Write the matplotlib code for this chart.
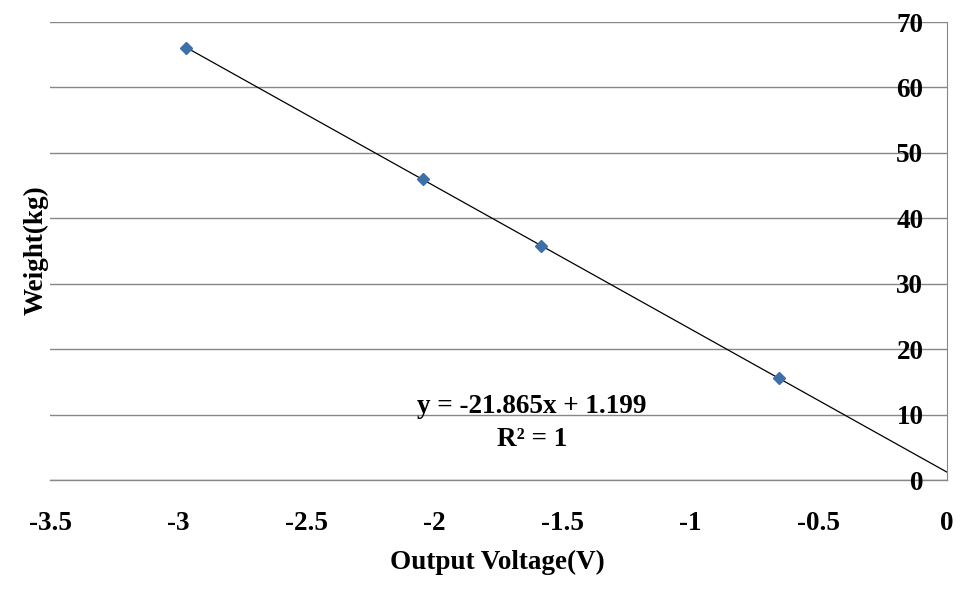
import numpy as np
import matplotlib.pyplot as plt
from matplotlib.ticker import FuncFormatter

# data
voltage = [-2.97, -2.045, -1.584, -0.656]
weight = [66.0, 46.0, 35.8, 15.6]
slope = -21.865
intercept = 1.199
x_ticks = [-3.5, -3, -2.5, -2, -1.5, -1, -0.5, 0]
y_ticks = [0, 10, 20, 30, 40, 50, 60, 70]

plt.rcParams['font.family'] = ['Liberation Serif', 'DejaVu Serif']
plt.rcParams['font.weight'] = 'bold'
plt.rcParams['axes.unicode_minus'] = False

fig = plt.figure(figsize=(9.69, 5.92), dpi=100)
ax = fig.add_axes([50 / 969, 1 - 480 / 592, 897 / 969, 458 / 592])

# trend line from first point to x = 0
line_x = np.array([voltage[0], 0.0])
ax.plot(line_x, slope * line_x + intercept, color='black', lw=0.9, zorder=3)
ax.plot(voltage, weight, ls='none', marker='D', ms=6, color='#3d6fa8',
        markeredgecolor='#3d6fa8', zorder=4)

ax.set_xlim(-3.5, 0)
ax.set_ylim(0, 70)
ax.set_xticks(x_ticks)
ax.set_yticks(y_ticks)
ax.xaxis.set_major_formatter(FuncFormatter(lambda v, p: '%g' % v))
ax.yaxis.set_major_formatter(FuncFormatter(lambda v, p: '%g' % v))

ax.grid(axis='y', color='#878787', lw=1)
ax.grid(axis='x', visible=False)
ax.set_axisbelow(True)
# bottom line (y = 0) drawn unclipped so it is not cut in half
ax.axhline(0, color='#878787', lw=1, clip_on=False, zorder=0.5)

for s in ['top', 'right', 'bottom']:
    ax.spines[s].set_visible(False)
ax.spines['left'].set_position(('data', 0))
ax.spines['left'].set_color('#878787')

ax.tick_params(axis='y', length=0, pad=17, labelsize=19.5)
ax.tick_params(axis='x', length=0, pad=22, labelsize=19.5)
for lab in ax.get_xticklabels() + ax.get_yticklabels():
    lab.set_fontweight('bold')

ax.text(-1.62, 8.7, 'y = -21.865x + 1.199\nR² = 1', ha='center', va='center',
        ma='center', fontsize=19.5, fontweight='bold', linespacing=1.4)

fig.text(497 / 969, 1 - 562 / 592, 'Output Voltage(V)', ha='center', va='center',
         fontsize=19.5, fontweight='bold')
fig.text(36 / 969, 1 - 250 / 592, 'Weight(kg)', ha='center', va='center',
         rotation=90, fontsize=19.5, fontweight='bold')

fig.savefig('out.png', dpi=100)
